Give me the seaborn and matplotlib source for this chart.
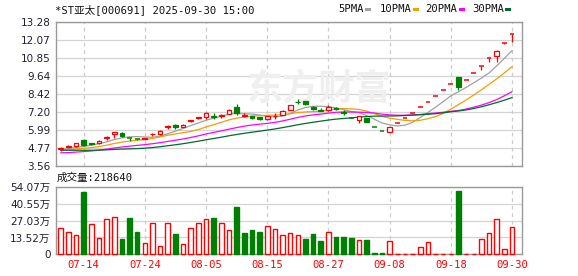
import numpy as np
import pandas as pd
import matplotlib
matplotlib.use("Agg")
import matplotlib.pyplot as plt
from matplotlib.patches import Rectangle
import seaborn as sns

# ---------------- data ----------------
dates = ["07-09", "07-10", "07-11", "07-14", "07-15", "07-16", "07-17", "07-18",
         "07-21", "07-22", "07-23", "07-24", "07-25", "07-28", "07-29", "07-30",
         "07-31", "08-01", "08-04", "08-05", "08-06", "08-07", "08-08", "08-11",
         "08-12", "08-13", "08-14", "08-15", "08-18", "08-19", "08-20", "08-21",
         "08-22", "08-25", "08-26", "08-27", "08-28", "08-29", "09-01", "09-02",
         "09-03", "09-04", "09-05", "09-08", "09-09", "09-10", "09-11", "09-12",
         "09-15", "09-16", "09-17", "09-18", "09-19", "09-22", "09-23", "09-24",
         "09-25", "09-26", "09-29", "09-30"]
open_ = [4.70, 4.86, 4.92, 5.33, 5.10, 5.08, 5.46, 5.74, 5.79, 5.44,
         5.37, 5.37, 5.70, 5.69, 6.20, 6.30, 6.22, 6.61, 6.78, 6.87,
         6.92, 6.93, 7.09, 7.54, 6.95, 6.91, 6.85, 6.71, 6.92, 7.00,
         7.36, 7.90, 7.95, 7.55, 7.35, 7.31, 7.46, 7.20, 6.80, 6.69,
         6.80, 6.20, 5.89, 5.85, 6.49, 6.81, 7.15, 7.51, 7.89, 8.28,
         8.69, 9.12, 9.58, 9.35, 9.82, 10.31, 10.83, 11.00, 11.87, 12.46]
high = [4.82, 4.97, 5.10, 5.40, 5.12, 5.30, 5.57, 5.83, 5.86, 5.48,
        5.40, 5.44, 5.82, 5.97, 6.35, 6.42, 6.38, 6.69, 6.90, 7.18,
        7.13, 7.05, 7.38, 7.72, 7.14, 6.93, 6.88, 6.93, 7.13, 7.32,
        7.70, 8.05, 7.98, 7.60, 7.49, 7.65, 7.54, 7.36, 6.81, 6.92,
        6.82, 6.20, 5.89, 6.18, 6.49, 6.81, 7.15, 7.51, 7.89, 8.28,
        8.69, 9.12, 9.58, 9.35, 9.82, 10.31, 10.83, 11.37, 11.87, 12.46]
low = [4.58, 4.84, 4.86, 4.92, 5.00, 5.06, 5.30, 5.46, 5.55, 5.28,
       5.30, 5.35, 5.60, 5.67, 6.06, 6.05, 6.20, 6.53, 6.70, 6.72,
       6.76, 6.80, 7.05, 7.00, 6.88, 6.76, 6.66, 6.68, 6.72, 6.98,
       7.34, 7.72, 7.68, 7.35, 7.26, 7.29, 7.31, 6.98, 6.79, 6.46,
       6.52, 6.20, 5.89, 5.83, 6.49, 6.81, 7.15, 7.51, 7.89, 8.28,
       8.69, 9.12, 8.72, 9.35, 9.82, 10.05, 10.60, 10.56, 11.80, 11.96]
close = [4.80, 4.90, 5.08, 4.98, 5.06, 5.28, 5.55, 5.83, 5.57, 5.42,
         5.35, 5.42, 5.74, 5.95, 6.25, 6.18, 6.36, 6.68, 6.86, 7.16,
         6.88, 7.03, 7.36, 7.14, 7.00, 6.80, 6.70, 6.91, 6.95, 7.30,
         7.67, 7.86, 7.75, 7.38, 7.30, 7.54, 7.42, 7.15, 6.79, 6.91,
         6.53, 6.20, 5.89, 6.18, 6.49, 6.81, 7.15, 7.51, 7.89, 8.28,
         8.69, 9.12, 8.90, 9.35, 9.82, 10.31, 10.83, 11.30, 11.87, 12.46]
# volume in 万 (10k) lots
volume = [20.9, 17.7, 15.3, 50.1, 24.1, 12.9, 28.1, 29.7, 12.3, 29.2,
          17.9, 8.8, 24.9, 6.7, 24.9, 16.3, 8.0, 20.9, 24.9, 28.1,
          29.2, 24.9, 19.3, 38.0, 17.1, 19.5, 17.9, 22.5, 20.1, 15.3,
          16.9, 15.3, 12.3, 16.3, 10.7, 17.7, 13.9, 13.9, 13.1, 11.2,
          11.2, 1.1, 1.1, 10.4, 0.6, 0.6, 0.6, 5.6, 9.6, 0.6,
          0.6, 0.6, 50.9, 0.6, 0.6, 12.0, 16.9, 28.1, 4.0, 21.864]
# closes before 07-09 (not shown; estimated from the MA starting levels)
hist_close = [5.10, 5.05, 5.12, 5.02, 4.98, 4.95, 5.00, 4.92, 4.90, 4.86,
              4.62, 4.39, 4.30, 4.25, 4.20, 4.18, 4.22, 4.25, 4.28, 4.31,
              4.40, 4.48, 4.55, 4.58, 4.59, 4.62, 4.66, 4.68, 4.64]

ma_windows = [5, 10, 20, 30]
ma_labels = ["5PMA", "10PMA", "20PMA", "30PMA"]
ma_colors = ["#a0a0a0", "#f0a000", "#ff00ff", "#006a30"]
price_ticks = [3.56, 4.77, 5.99, 7.20, 8.42, 9.64, 10.85, 12.07, 13.28]
price_tick_labels = ["3.56", "4.77", "5.99", "7.20", "8.42", "9.64", "10.85", "12.07", "13.28"]
vol_ticks = [0, 13.52, 27.03, 40.55, 54.07]
vol_tick_labels = ["0", "13.52万", "27.03万", "40.55万", "54.07万"]
xtick_dates = ["07-14", "07-24", "08-05", "08-15", "08-27", "09-08", "09-18", "09-30"]
title = "*ST亚太[000691] 2025-09-30 15:00"
vol_title = "成交量:218640"

RED = "#ff0000"
GREEN = "#008000"
GRID = "#d4d4d4"
BORDER = "#999999"
TXT = "#202030"

# ---------------- style ----------------
sns.set_style("white")
plt.rcParams["font.family"] = ["DejaVu Sans", "Noto Sans CJK SC"]
MONO = ["DejaVu Sans Mono", "Noto Sans CJK SC"]

W, H = 578, 276
fig = plt.figure(figsize=(W / 100, H / 100), dpi=100)
fig.patch.set_facecolor("white")

def fbox(x0, y0, x1, y1):
    return [x0 / W, 1 - y1 / H, (x1 - x0) / W, (y1 - y0) / H]

ax = fig.add_axes(fbox(56, 22, 522, 166))
axv = fig.add_axes(fbox(56, 187, 522, 254.3))

n = len(dates)
x = np.arange(n)
xlim = (-0.61, 60.3)

# moving averages
all_close = pd.Series(hist_close + close)
ma_df = pd.DataFrame({"x": x})
for w, lab in zip(ma_windows, ma_labels):
    ma_df[lab] = all_close.rolling(w).mean().iloc[len(hist_close):].to_numpy()

def up_flag(i):
    prev = close[i - 1] if i > 0 else hist_close[-1]
    if close[i] > open_[i]:
        return True
    if close[i] < open_[i]:
        return False
    return close[i] >= prev

def vol_up(i):
    prev = close[i - 1] if i > 0 else hist_close[-1]
    return close[i] >= prev

# ---------------- price panel ----------------
ax.set_xlim(*xlim)
ax.set_ylim(price_ticks[0], price_ticks[-1])
for t in price_ticks:
    ax.axhline(t, color=GRID, lw=0.9, zorder=0.5)
tick_idx = [dates.index(d) for d in xtick_dates]
for ti in tick_idx:
    ax.axvline(ti, color="#cccccc", lw=0.9, ls=(0, (3, 3)), zorder=0.5)

ax.text(0.565, 0.535, "东方财富", transform=ax.transAxes, ha="center", va="center",
        fontsize=26, fontweight="bold", color="#efefef", zorder=0.6,
        family=["Noto Sans CJK SC"])

for lab, col in zip(ma_labels, ma_colors):
    sns.lineplot(data=ma_df, x="x", y=lab, ax=ax, color=col, lw=0.9, zorder=2)

bw = 0.62
for i in x:
    o, h, l, c = open_[i], high[i], low[i], close[i]
    up = up_flag(i)
    col = RED if up else GREEN
    top, bot = max(o, c), min(o, c)
    if top - bot < 0.025:
        ax.vlines(i, l, h, color=col, lw=0.9, zorder=3)
        ax.hlines((o + c) / 2, i - bw / 2, i + bw / 2, color=col, lw=1.1, zorder=3)
        continue
    if up:
        ax.vlines(i, top, h, color=col, lw=0.9, zorder=3)
        ax.vlines(i, l, bot, color=col, lw=0.9, zorder=3)
        ax.add_patch(Rectangle((i - bw / 2, bot), bw, top - bot, facecolor="white",
                               edgecolor=col, lw=0.9, zorder=3))
    else:
        ax.vlines(i, l, h, color=col, lw=0.9, zorder=3)
        ax.add_patch(Rectangle((i - bw / 2, bot), bw, top - bot, facecolor=col,
                               edgecolor=col, lw=0.9, zorder=3))

ax.set_yticks(price_ticks)
ax.set_yticklabels(price_tick_labels)
ax.set_xticks([])
ax.set_xlabel("")
ax.set_ylabel("")
ax.tick_params(axis="y", length=3, width=0.8, color=BORDER, pad=1, labelsize=7.5,
               labelcolor=TXT)
for s in ax.spines.values():
    s.set_color(BORDER)
    s.set_linewidth(1)

# ---------------- volume panel ----------------
axv.set_xlim(*xlim)
axv.set_ylim(0, vol_ticks[-1])
for t in vol_ticks:
    axv.axhline(t, color=GRID, lw=0.9, zorder=0.5)
for ti in tick_idx:
    axv.axvline(ti, color="#cccccc", lw=0.9, ls=(0, (3, 3)), zorder=0.5)

vw = 0.6
for i in x:
    if vol_up(i):
        axv.bar(i, volume[i], width=vw, facecolor="white", edgecolor=RED, lw=1.0,
                zorder=4, clip_on=False)
    else:
        axv.bar(i, volume[i], width=vw, facecolor=GREEN, edgecolor=GREEN, lw=1.0,
                zorder=4, clip_on=False)

axv.set_yticks(vol_ticks)
axv.set_yticklabels(vol_tick_labels)
axv.set_xticks(tick_idx)
axv.set_xticklabels(xtick_dates, family=MONO, fontsize=7.6, color=RED)
axv.set_xlabel("")
axv.set_ylabel("")
axv.tick_params(axis="y", length=3, width=0.8, color=BORDER, pad=1, labelsize=7.5,
                labelcolor=TXT)
axv.tick_params(axis="x", length=0, pad=4)
for s in axv.spines.values():
    s.set_color(BORDER)
    s.set_linewidth(1)
    s.set_zorder(2)

# ---------------- header texts ----------------
fig.text(55 / W, 1 - 9.5 / H, title, ha="left", va="center", fontsize=7.6,
         family=MONO, color="#111111")
leg_x = [338, 380, 425, 472]
sq_x = [365, 413, 459, 505]
for lab, col, lx, sx in zip(ma_labels, ma_colors, leg_x, sq_x):
    fig.text(lx / W, 1 - 9.5 / H, lab, ha="left", va="center", fontsize=7.6,
             family=MONO, color="#111111")
    fig.add_artist(Rectangle((sx / W, 1 - 11 / H), 6 / W, 3 / H, facecolor=col,
                             edgecolor="none", transform=fig.transFigure))
fig.text(57 / W, 1 - 177.5 / H, vol_title, ha="left", va="center", fontsize=7.6,
         family=MONO, color="#111111")

fig.savefig("out.png", dpi=100, facecolor="white")
